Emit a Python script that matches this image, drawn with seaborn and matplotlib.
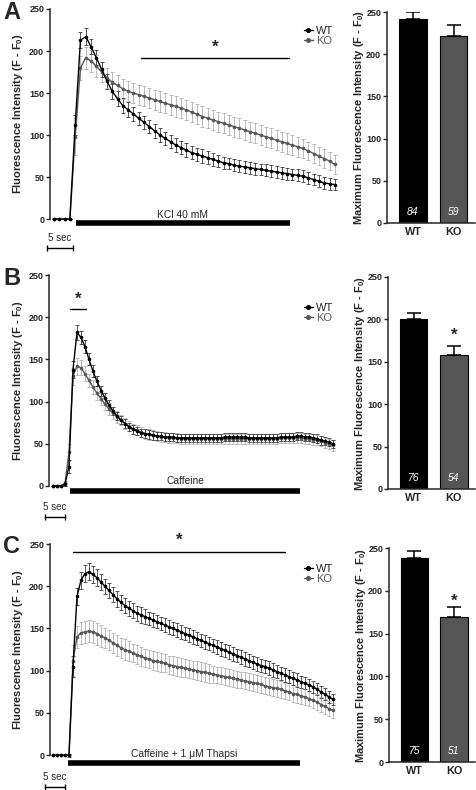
import numpy as np
import pandas as pd
import matplotlib
matplotlib.use("Agg")
import matplotlib.pyplot as plt
from matplotlib.lines import Line2D
import seaborn as sns

# ---- traces, one point per second ----
wt_a = [0, 0, 0, 0, 112, 213, 217, 205, 192, 178, 164, 152, 143, 135, 130, 125, 120, 115, 110, 105,
        100, 96, 92, 88, 85, 82, 79, 77, 75, 73, 71, 69, 67, 66, 64, 63, 62, 61, 60, 59,
        58, 57, 56, 55, 54, 53, 52, 51, 49, 47, 45, 43, 42, 41]
wt_a_err = [0, 0, 0, 0, 12, 10, 10, 9, 9, 9, 9, 9, 9, 9, 9, 8, 8, 8, 8, 8,
            8, 8, 8, 8, 8, 8, 8, 8, 8, 8, 8, 7, 7, 7, 7, 7, 7, 7, 7, 7,
            7, 7, 7, 7, 7, 7, 7, 7, 7, 7, 7, 7, 7, 7]
ko_a = [0, 0, 0, 0, 98, 180, 192, 188, 182, 175, 168, 163, 159, 155, 152, 150, 148, 146, 144, 142,
        140, 138, 136, 134, 132, 130, 127, 125, 122, 120, 118, 116, 114, 112, 110, 108, 106, 104, 102, 100,
        98, 96, 94, 92, 90, 88, 86, 84, 81, 78, 75, 72, 69, 65]
ko_a_err = [0, 0, 0, 0, 22, 14, 13, 13, 13, 12, 12, 12, 12, 12, 12, 12, 12, 12, 12, 12,
            12, 12, 12, 12, 12, 12, 12, 12, 12, 12, 12, 12, 12, 12, 12, 12, 12, 12, 12, 12,
            12, 12, 12, 12, 12, 12, 12, 11, 11, 11, 11, 11, 11, 11]

wt_b = [0, 0, 0, 2, 23, 138, 182, 176, 165, 150, 136, 124, 113, 104, 96, 89, 83, 78, 74, 70,
        67, 65, 63, 62, 61, 60, 59, 59, 58, 58, 58, 57, 57, 57, 57, 57, 57, 57, 57, 57,
        57, 57, 57, 58, 58, 58, 58, 58, 58, 57, 57, 57, 57, 57, 57, 57, 57, 58, 58, 58,
        58, 59, 59, 58, 58, 57, 56, 54, 53, 52, 50]
wt_b_err = [0, 0, 0, 2, 8, 10, 9, 8, 8, 7, 7, 6, 6, 6, 6, 5, 5, 5, 5, 5,
            5, 5, 5, 5, 5, 5, 5, 5, 5, 5, 5, 5, 5, 5, 5, 5, 5, 5, 5, 5,
            5, 5, 5, 5, 5, 5, 5, 5, 5, 5, 5, 5, 5, 5, 5, 5, 5, 5, 5, 5,
            5, 5, 5, 5, 5, 5, 5, 5, 5, 5, 5]
ko_b = [0, 0, 0, 3, 40, 130, 142, 140, 133, 125, 117, 110, 103, 97, 91, 86, 82, 78, 74, 71,
        68, 66, 64, 62, 61, 60, 59, 58, 58, 57, 57, 57, 56, 56, 56, 56, 56, 56, 56, 56,
        56, 56, 56, 56, 56, 56, 56, 56, 56, 56, 56, 56, 56, 56, 56, 56, 56, 57, 57, 57,
        57, 57, 57, 56, 56, 55, 54, 53, 51, 50, 48]
ko_b_err = [0, 0, 0, 3, 10, 10, 10, 9, 9, 8, 8, 8, 7, 7, 7, 7, 7, 6, 6, 6,
            6, 6, 6, 6, 6, 6, 6, 6, 6, 6, 6, 6, 6, 6, 6, 6, 6, 6, 6, 6,
            6, 6, 6, 6, 6, 6, 6, 6, 6, 6, 6, 6, 6, 6, 6, 6, 6, 6, 6, 6,
            6, 6, 6, 6, 6, 6, 6, 6, 6, 6, 6]

wt_c = [0, 0, 0, 0, 0, 105, 188, 207, 215, 217, 214, 210, 205, 200, 195, 190, 185, 181, 177, 174,
        171, 168, 166, 164, 162, 160, 158, 156, 154, 152, 150, 148, 146, 144, 142, 140, 138, 136, 134, 132,
        130, 128, 126, 124, 122, 120, 118, 116, 114, 112, 110, 108, 106, 105, 103, 101, 99, 97, 95, 93,
        91, 89, 87, 85, 83, 81, 78, 75, 72, 69, 66]
wt_c_err = [0, 0, 0, 0, 2, 12, 10, 10, 10, 10, 10, 10, 10, 9, 9, 9, 9, 9, 9, 9,
            9, 9, 9, 9, 8, 8, 8, 8, 8, 8, 8, 8, 8, 8, 8, 8, 8, 8, 8, 8,
            8, 8, 8, 8, 8, 8, 8, 8, 8, 8, 8, 8, 8, 8, 8, 8, 8, 8, 8, 8,
            8, 8, 7, 7, 7, 7, 7, 7, 7, 7, 7]
ko_c = [0, 0, 0, 0, 0, 112, 140, 145, 146, 147, 146, 144, 141, 139, 136, 133, 130, 127, 125, 123,
        121, 119, 117, 115, 114, 112, 111, 110, 109, 107, 106, 105, 104, 103, 102, 101, 100, 99, 98, 97,
        96, 95, 94, 93, 92, 91, 90, 89, 88, 87, 86, 85, 84, 82, 81, 80, 79, 78, 76, 75,
        73, 72, 70, 69, 67, 65, 63, 60, 58, 55, 53]
ko_c_err = [0, 0, 0, 0, 2, 18, 13, 13, 13, 13, 13, 13, 13, 12, 12, 12, 12, 12, 12, 12,
            11, 11, 11, 11, 11, 11, 11, 11, 11, 11, 11, 11, 11, 11, 11, 11, 11, 11, 11, 11,
            10, 10, 10, 10, 10, 10, 10, 10, 10, 10, 10, 10, 10, 10, 10, 10, 10, 10, 10, 10,
            10, 10, 9, 9, 9, 9, 9, 9, 9, 9, 9]

# ---- maximum response bars ----
genotypes = ["WT", "KO"]
max_a = [242, 222]
max_a_err = [8, 12.5]
n_a = ["84", "59"]
max_b = [200, 158]
max_b_err = [8, 11]
n_b = ["76", "54"]
max_c = [238, 169]
max_c_err = [9, 12]
n_c = ["75", "51"]

stim_labels = ["KCl 40 mM", "Caffeine", "Caffeine + 1 \u03bcM Thapsi"]

sns.set_style("ticks")
plt.rcParams["font.family"] = ["Liberation Sans", "DejaVu Sans"]
plt.rcParams["mathtext.fontset"] = "custom"
plt.rcParams["mathtext.rm"] = "Liberation Sans:bold"
plt.rcParams["mathtext.default"] = "rm"

W, H = 477, 790
fig = plt.figure(figsize=(W / 100, H / 100), dpi=100)

KO_LINE = "#585858"
KO_BAR = "#555555"
YTICKS = [0, 50, 100, 150, 200, 250]


def px_axes(left, right, top, bottom):
    return fig.add_axes([left / W, 1 - bottom / H, (right - left) / W, (bottom - top) / H])


def style_y(ax):
    ax.set_yticks(YTICKS)
    ax.tick_params(axis="y", direction="out", length=3, width=1, labelsize=6.5, pad=1.2)
    for lab in ax.get_yticklabels():
        lab.set_fontweight("bold")
    ax.spines["left"].set_linewidth(1.1)


def draw_trace(ax, wt, wt_err, ko, ko_err, xlim, ylim, stim, sig, scale, leg_y):
    t = np.arange(len(wt))
    df = pd.DataFrame({
        "t": np.concatenate([t, t]),
        "value": wt + ko,
        "genotype": ["WT"] * len(wt) + ["KO"] * len(ko),
    })
    ax.errorbar(t, ko, yerr=ko_err, fmt="none", ecolor="#b0b0b0", elinewidth=0.6,
                capsize=1.3, capthick=0.6, zorder=1)
    ax.errorbar(t, wt, yerr=wt_err, fmt="none", ecolor="#3a3a3a", elinewidth=0.6,
                capsize=1.3, capthick=0.6, zorder=2)
    sns.lineplot(data=df, x="t", y="value", hue="genotype", hue_order=["KO", "WT"],
                 palette={"WT": "black", "KO": KO_LINE}, marker="o", markersize=2.6,
                 markeredgewidth=0, linewidth=1, errorbar=None, legend=False, ax=ax)
    for ln in ax.lines:
        ln.set_zorder(3)
    ax.set_xlim(*xlim)
    ax.set_ylim(*ylim)
    ax.set_xlabel("")
    ax.set_ylabel("Fluorescence Intensity (F - F$_0$)", fontsize=8, fontweight="bold")
    ax.yaxis.set_label_coords(-0.085, (125 - ylim[0]) / (ylim[1] - ylim[0]))
    for s in ["top", "right", "bottom"]:
        ax.spines[s].set_visible(False)
    ax.spines["left"].set_bounds(0, 250)
    ax.set_xticks([])
    style_y(ax)

    # stimulus bar
    x0, x1, yb, label, ytxt = stim
    ax.plot([x0, x1], [yb, yb], color="black", lw=4, solid_capstyle="butt", clip_on=False)
    ax.text((x0 + x1) / 2, ytxt, label, ha="center", va="baseline", fontsize=7.4)

    # significance line
    s0, s1, ys, yst = sig
    ax.plot([s0, s1], [ys, ys], color="black", lw=1, clip_on=False)
    ax.text((s0 + s1) / 2, yst, "*", ha="center", va="center", fontsize=12,
            fontweight="bold", clip_on=False)

    # 5 sec scale bar
    c0, ytx, ybar = scale
    ax.plot([c0, c0 + 5], [ybar, ybar], color="black", lw=1, marker="|", markersize=5,
            markeredgewidth=1, clip_on=False)
    ax.text(c0 + 2.5, ytx, "5 sec", ha="center", va="center", fontsize=7)

    handles = [Line2D([], [], color="black", marker="o", markersize=2.6, lw=1),
               Line2D([], [], color=KO_LINE, marker="o", markersize=2.6, lw=1)]
    leg = ax.legend(handles, ["WT", "KO"], loc="upper left", bbox_to_anchor=(0.875, leg_y),
                    frameon=False, fontsize=8, handlelength=0.85, handletextpad=0.25,
                    labelspacing=0.0, borderpad=0, borderaxespad=0)
    leg.get_texts()[1].set_color(KO_LINE)


def draw_bars(ax, width_px, vals, errs, ns, star):
    df = pd.DataFrame({"genotype": genotypes, "value": vals})
    sns.barplot(data=df, x="genotype", y="value", hue="genotype", palette=["black", KO_BAR],
                edgecolor="black", linewidth=0.8, width=0.69, legend=False, ax=ax)
    ax.errorbar([0, 1], vals, yerr=[[0, 0], errs], fmt="none", ecolor="black", elinewidth=1.1,
                capsize=5, capthick=1.1, zorder=0)
    for i, n in enumerate(ns):
        ax.text(i, 9, n, color="white", style="italic", ha="center", va="baseline", fontsize=7.5)
    if star is not None:
        ax.text(1, star, "*", ha="center", va="center", fontsize=12, fontweight="bold")
    ax.set_xlim(-0.64, 1.53)
    ax.set_ylim(0, 250)
    ax.set_xlabel("")
    ax.set_ylabel("Maximum Fluorescence Intensity (F - F$_0$)", fontsize=8, fontweight="bold")
    ax.yaxis.set_label_coords(-20.5 / width_px, 0.5)
    for s in ["top", "right"]:
        ax.spines[s].set_visible(False)
    ax.spines["bottom"].set_linewidth(1.1)
    ax.tick_params(axis="x", length=0, labelsize=7.8, pad=3)
    for lab in ax.get_xticklabels():
        lab.set_fontweight("bold")
    style_y(ax)


# panel A
ax = px_axes(50, 340, 9, 251)
draw_trace(ax, wt_a, wt_a_err, ko_a, ko_a_err, (-0.75, 53.97), (-38, 250),
           (4.1, 44.5, -5, stim_labels[0], 1.5), (16.5, 44.3, 192, 204),
           (-1.4, -22.6, -34.5), 0.93)
ax = px_axes(387, 475, 12, 223)
draw_bars(ax, 88, max_a, max_a_err, n_a, None)

# panel B
ax = px_axes(49.5, 340, 275, 518)
draw_trace(ax, wt_b, wt_b_err, ko_b, ko_b_err, (-0.875, 71.75), (-38, 250),
           (4.25, 61.75, -5.5, stim_labels[1], 2), (4.25, 8.25, 210, 221),
           (-2, -25, -37), 0.885)
ax = px_axes(388, 475, 277, 489)
draw_bars(ax, 87, max_b, max_b_err, n_b, 181)

# panel C
ax = px_axes(50, 340, 544, 789)
draw_trace(ax, wt_c, wt_c_err, ko_c, ko_c_err, (-0.75, 71.75), (-40, 250),
           (3.75, 61.75, -9, stim_labels[2], -2), (5, 58, 241, 254),
           (-2, -26, -38), 0.92)
ax = px_axes(389, 475, 548, 762)
draw_bars(ax, 86, max_c, max_c_err, n_c, 188)

for letter, y in [("A", 19), ("B", 285), ("C", 553)]:
    fig.text(3 / W, 1 - y / H, letter, fontsize=17, fontweight="bold", va="baseline", ha="left")

fig.savefig("out.png", dpi=100)
